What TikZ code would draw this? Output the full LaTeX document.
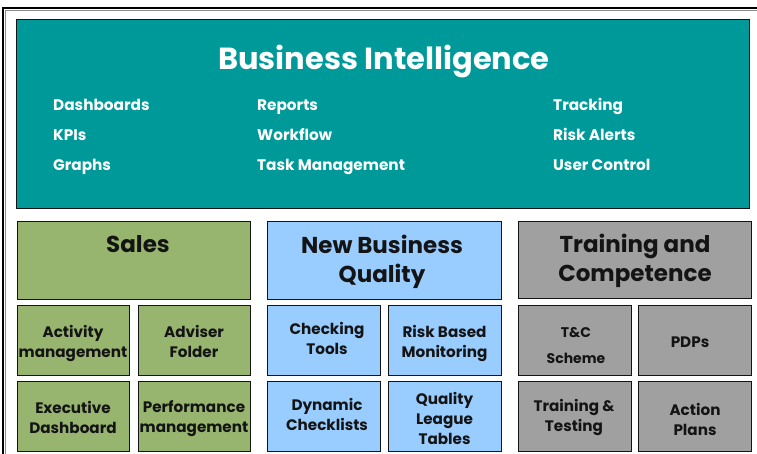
\documentclass[tikz,border=0pt]{standalone}
\usepackage{fontspec}
\setmainfont{Poppins}
\definecolor{teal1}{RGB}{0,153,153}
\definecolor{green1}{RGB}{151,181,111}
\definecolor{blue1}{RGB}{153,204,255}
\definecolor{grey1}{RGB}{160,160,160}
\definecolor{ink}{RGB}{20,20,20}
\tikzset{
  box/.style={draw=ink, line width=0.9pt, inner sep=0pt},
  ttl/.style={font=\bfseries\fontsize{30.5}{36}\selectfont, text=white, inner sep=0pt, anchor=base},
  itm/.style={font=\bfseries\fontsize{15.3}{20}\selectfont, text=white, inner sep=0pt, anchor=base west},
  hdr/.style={font=\bfseries\fontsize{23}{29}\selectfont, text=ink, inner sep=0pt, align=center},
  sub/.style={font=\bfseries\fontsize{15.2}{20}\selectfont, text=ink, inner sep=0pt, align=center},
}
\begin{document}
\begin{tikzpicture}[x=1pt,y=-1pt]
\useasboundingbox (0,0) rectangle (757,454);
\fill[white] (0,0) rectangle (757,454);
% outer frame
\draw[black, line width=1.2pt] (3,454) -- (3,8) -- (757,8);
\draw[black!45, line width=0.8pt] (5.5,454) -- (5.5,10.5) -- (757,10.5);
% Business Intelligence
\node[box, fill=teal1, minimum width=733pt, minimum height=189pt] (bi) at (382.5,113.5) {};
\node[ttl] (biT) at (384,70) {Business Intelligence};
\node[itm] (i1) at (53,110.5) {Dashboards};
\node[itm] (i2) at (53,140.5) {KPIs};
\node[itm] (i3) at (53,170.5) {Graphs};
\node[itm] (i4) at (257,110.5) {Reports};
\node[itm] (i5) at (257,140.5) {Workflow};
\node[itm] (i6) at (257,170.5) {Task Management};
\node[itm] (i7) at (553,110.5) {Tracking};
\node[itm] (i8) at (553,140.5) {Risk Alerts};
\node[itm] (i9) at (553,170.5) {User Control};
% Sales
\node[box, fill=green1, minimum width=233pt, minimum height=78pt] (sales) at (133.5,260) {};
\node[hdr] (salesT) at (138,244) {Sales};
\node[box, fill=green1, minimum width=112pt, minimum height=70pt] (s1) at (73,340.5) {};
\node[box, fill=green1, minimum width=112pt, minimum height=70pt] (s2) at (194,340.5) {};
\node[box, fill=green1, minimum width=112pt, minimum height=70pt] (s3) at (73,416.5) {};
\node[box, fill=green1, minimum width=112pt, minimum height=70pt] (s4) at (194,416.5) {};
\node[sub] (s1T) at (73,344) {Activity\\management};
\node[sub] (s2T) at (194,341) {Adviser\\Folder};
\node[sub] (s3T) at (73,417) {Executive\\Dashboard};
\node[sub] (s4T) at (194,419) {Performance\\management};
% New Business Quality
\node[box, fill=blue1, minimum width=234pt, minimum height=78pt] (nbq) at (384,260) {};
\node[hdr] (nbqT) at (382,261.5) {New Business\\Quality};
\node[box, fill=blue1, minimum width=113pt, minimum height=70pt] (n1) at (323.5,340.5) {};
\node[box, fill=blue1, minimum width=113pt, minimum height=70pt] (n2) at (444.5,340.5) {};
\node[box, fill=blue1, minimum width=113pt, minimum height=70pt] (n3) at (323.5,416.5) {};
\node[box, fill=blue1, minimum width=113pt, minimum height=70pt] (n4) at (444.5,416.5) {};
\node[sub] (n1T) at (327,338) {Checking\\Tools};
\node[sub] (n2T) at (444.5,344) {Risk Based\\Monitoring};
\node[sub] (n3T) at (327,414.5) {Dynamic\\Checklists};
\node[sub] (n4T) at (444.5,418) {Quality\\League\\Tables};
% Training and Competence
\node[box, fill=grey1, minimum width=233pt, minimum height=77pt] (tc) at (634.5,259.5) {};
\node[hdr] (tcT) at (635,261) {Training and\\Competence};
\node[box, fill=grey1, minimum width=113pt, minimum height=70pt] (t1) at (574.5,340.5) {};
\node[box, fill=grey1, minimum width=113pt, minimum height=70pt] (t2) at (694.5,340.5) {};
\node[box, fill=grey1, minimum width=113pt, minimum height=70pt] (t3) at (574.5,416.5) {};
\node[box, fill=grey1, minimum width=113pt, minimum height=70pt] (t4) at (694.5,416.5) {};
\node[sub, font=\bfseries\fontsize{14}{26}\selectfont] (t1T) at (576,346) {T\&C\\Scheme};
\node[sub] (t2T) at (690,342) {PDPs};
\node[sub] (t3T) at (574,417) {Training \&\\Testing};
\node[sub] (t4T) at (695,419.5) {Action\\Plans};
\end{tikzpicture}
\end{document}
